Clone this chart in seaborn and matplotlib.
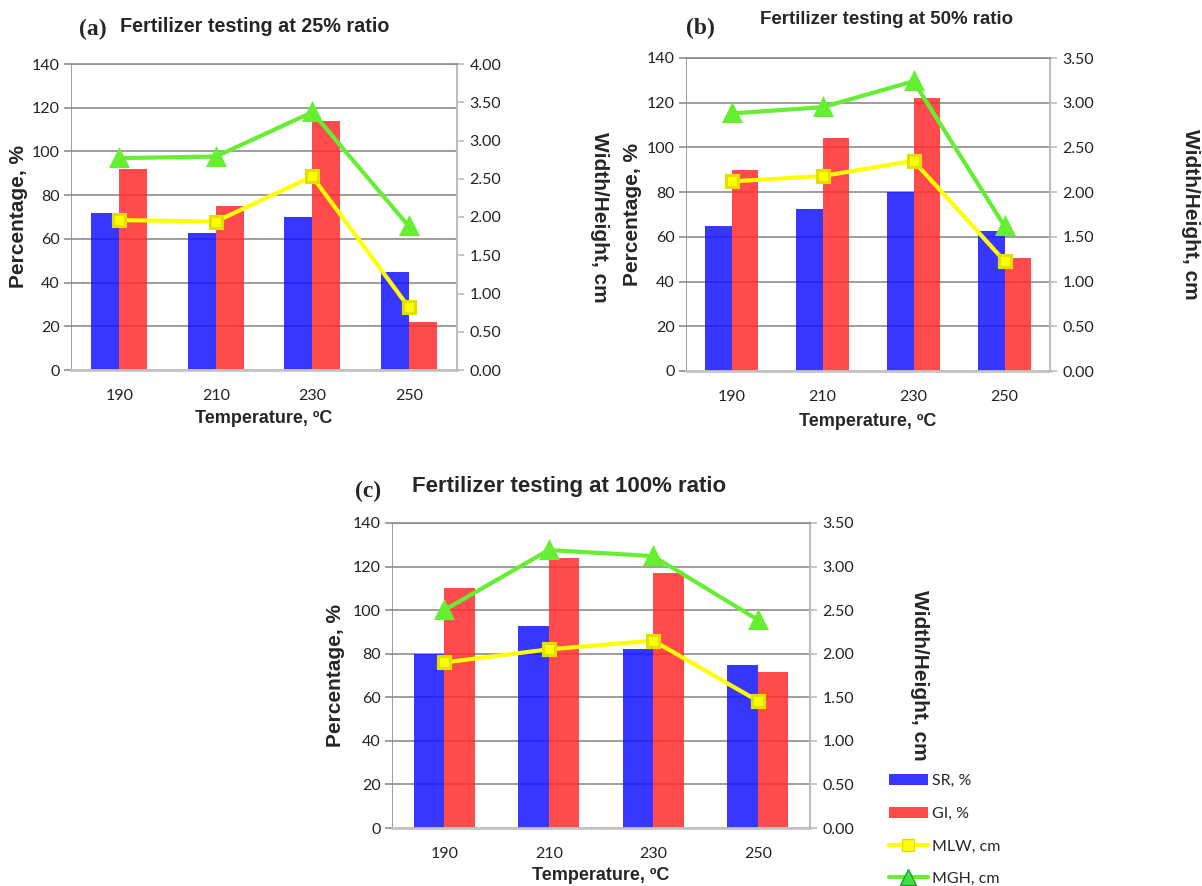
import numpy as np
import pandas as pd
import matplotlib
matplotlib.use("Agg")
import matplotlib.pyplot as plt
import matplotlib.ticker as mticker
from matplotlib.font_manager import FontProperties
from matplotlib.patches import Patch
from matplotlib.lines import Line2D
import seaborn as sns

# ─────────────────────────────────────────────
# DATA
# ─────────────────────────────────────────────
TEMPS = ["190", "210", "230", "250"]

SR_25 = [72, 62.5, 70, 45]
GI_25 = [92, 75, 114, 22]
MLW_25 = [1.96, 1.94, 2.53, 0.82]
MGH_25 = [2.77, 2.79, 3.37, 1.88]

SR_50 = [65, 72.5, 80, 62.5]
GI_50 = [90, 104, 122, 50.5]
MLW_50 = [2.12, 2.18, 2.35, 1.23]
MGH_50 = [2.88, 2.95, 3.24, 1.62]

SR_100 = [80, 92.5, 82, 75]
GI_100 = [110, 124, 117, 71.5]
MLW_100 = [1.90, 2.05, 2.15, 1.46]
MGH_100 = [2.50, 3.19, 3.12, 2.39]

SERIES = ["SR, %", "GI, %"]
LINE_LABELS = ["MLW, cm", "MGH, cm"]

# ─────────────────────────────────────────────
# STYLE
# ─────────────────────────────────────────────
COR_SR = "#1414FF"
COR_GI = "#FF2B2B"
COR_MLW = "#FFFF00"
COR_MLW_EDGE = "#E0E000"
COR_MGH = "#66EE33"
COR_MGH_FILL = "#44DD44"
COR_MGH_EDGE = "#1E9E3C"
GRID = "#8C8C8C"

sns.set_style("white")
plt.rcParams["font.family"] = ["Liberation Sans", "DejaVu Sans"]

TICK_PROP = FontProperties(family=["Lato", "DejaVu Sans"], size=11.5)
TITLE_FAMILY = ["Liberation Sans", "DejaVu Sans"]
LETTER_FONT = dict(family=["Liberation Serif", "DejaVu Serif"], size=17, weight="bold")
YLAB_FONT = dict(family=["Liberation Sans", "DejaVu Sans"], size=15, weight="bold")
XLAB_FONT = dict(family=["Liberation Sans", "DejaVu Sans"], size=13, weight="bold")


def painel(fig, rect, sr, gi, mlw, mgh, ymax2, letra, titulo, tam_titulo,
           pos_letra, pos_titulo, x_ylab, x_ylab2, y_xlab):
    ax = fig.add_axes(rect)
    df = pd.DataFrame({
        "temp": TEMPS * 2,
        "valor": sr + gi,
        "serie": [SERIES[0]] * 4 + [SERIES[1]] * 4,
    })
    sns.barplot(data=df, x="temp", y="valor", hue="serie", order=TEMPS,
                palette=[COR_SR, COR_GI], saturation=1, width=0.58, gap=0,
                alpha=0.85, linewidth=0, edgecolor="none", legend=False,
                ax=ax, zorder=2)

    ax.set_ylim(0, 140)
    ax.set_yticks(np.arange(0, 141, 20))
    ax.set_xlim(-0.5, 3.5)
    ax.grid(axis="y", color=GRID, linewidth=1.2, zorder=0)
    ax.set_axisbelow(True)
    for s in ["top", "left", "right"]:
        ax.spines[s].set_visible(False)
    ax.spines["bottom"].set_color("#C4C4C4")
    ax.spines["bottom"].set_linewidth(2)
    ax.axvline(-0.5, color=GRID, linewidth=1.2, zorder=1)
    ax.tick_params(axis="y", length=5, color=GRID, width=1.2, pad=3)
    ax.set_xticks(range(4), TEMPS)
    ax.set_xticks(np.arange(-0.5, 4, 1), minor=True)
    ax.tick_params(axis="x", which="major", length=0, pad=14)
    ax.tick_params(axis="x", which="minor", length=6, color="#9A9A9A", width=1)
    for lab in ax.get_xticklabels() + ax.get_yticklabels():
        lab.set_fontproperties(TICK_PROP)
        lab.set_color("#222222")
    ax.set_xlabel("Temperature, ºC", va="center", **XLAB_FONT)
    ax.xaxis.set_label_coords(0.5, y_xlab)
    ax.set_ylabel("Percentage, %", va="center", **YLAB_FONT)
    ax.yaxis.set_label_coords(x_ylab, 0.5)

    ax2 = ax.twinx()
    sns.pointplot(x=TEMPS, y=mlw, order=TEMPS, color=COR_MLW, markers="s",
                  markersize=9, linewidth=3, ax=ax2)
    sns.pointplot(x=TEMPS, y=mgh, order=TEMPS, color=COR_MGH, markers="^",
                  markersize=11, linewidth=3, ax=ax2)
    linhas = ax2.lines
    linhas[0].set_markeredgecolor(COR_MLW_EDGE)
    linhas[1].set_markerfacecolor(COR_MGH_FILL)
    linhas[1].set_markeredgecolor(COR_MGH_EDGE)
    linhas[1].set_markeredgewidth(1.3)
    ax2.set_xlim(-0.5, 3.5)
    ax2.set_ylim(0, ymax2)
    ax2.set_yticks(np.arange(0, ymax2 + 0.01, 0.5))
    ax2.yaxis.set_major_formatter(mticker.FormatStrFormatter("%.2f"))
    for s in ["left", "bottom"]:
        ax2.spines[s].set_visible(False)
    ax2.spines["right"].set_color("#BDBDBD")
    ax2.spines["right"].set_linewidth(1.5)
    ax2.spines["top"].set_color(GRID)
    ax2.spines["top"].set_linewidth(1.2)
    ax2.tick_params(axis="y", length=5, color="#BDBDBD", width=1.2, pad=4)
    for lab in ax2.get_yticklabels():
        lab.set_fontproperties(TICK_PROP)
        lab.set_color("#222222")
    ax2.set_xlabel("")
    ax2.set_ylabel("Width/Height, cm", rotation=-90, va="center", ha="center",
                   **YLAB_FONT)
    ax2.yaxis.set_label_coords(x_ylab2, 0.5)

    fig.text(pos_letra[0], pos_letra[1], letra, ha="left", va="center", **LETTER_FONT)
    fig.text(pos_titulo[0], pos_titulo[1], titulo, ha="left", va="center",
             family=TITLE_FAMILY, size=tam_titulo, weight="bold")
    return ax, ax2


def main():
    fig = plt.figure(figsize=(12.02, 8.86), dpi=100)
    W, H = 1202, 886

    def r(l, rt, t, b):
        return [l / W, 1 - b / H, (rt - l) / W, (b - t) / H]

    painel(fig, r(71, 457, 64, 370), SR_25, GI_25, MLW_25, MGH_25, 4.0,
           "(a)", "Fertilizer testing at 25% ratio", 14.2,
           (79 / W, 1 - 29 / H), (120 / W, 1 - 27 / H),
           -0.137, 1.37, -0.157)
    painel(fig, r(686, 1050, 58, 371), SR_50, GI_50, MLW_50, MGH_50, 3.5,
           "(b)", "Fertilizer testing at 50% ratio", 13.4,
           (686 / W, 1 - 28 / H), (760 / W, 1 - 19 / H),
           -0.146, 1.385, -0.16)
    painel(fig, r(392, 810, 523, 828), SR_100, GI_100, MLW_100, MGH_100, 3.5,
           "(c)", "Fertilizer testing at 100% ratio", 16,
           (355 / W, 1 - 491 / H), (412 / W, 1 - 486 / H),
           -0.136, 1.263, -0.157)

    handles = [
        Patch(facecolor="#3737FF", edgecolor="none"),
        Patch(facecolor="#FF4B4B", edgecolor="none"),
        Line2D([], [], color=COR_MLW, linewidth=3, marker="s", markersize=9,
               markeredgecolor=COR_MLW_EDGE),
        Line2D([], [], color=COR_MGH, linewidth=3, marker="^", markersize=11,
               markerfacecolor=COR_MGH_FILL, markeredgecolor=COR_MGH_EDGE),
    ]
    fig.legend(handles, SERIES + LINE_LABELS, loc="upper left",
               bbox_to_anchor=(886 / W, 1 - 771 / H), frameon=False,
               labelspacing=1.15, handlelength=2.4, handletextpad=0.3,
               borderaxespad=0, borderpad=0.2,
               prop=FontProperties(family=["Lato", "DejaVu Sans"], size=11.5))

    fig.savefig("out.png", dpi=100)


if __name__ == "__main__":
    main()
